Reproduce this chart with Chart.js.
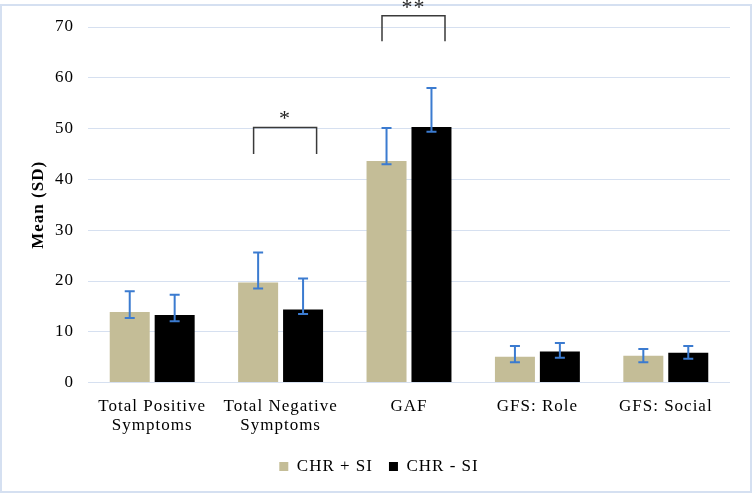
<!DOCTYPE html>
<html>
<head>
<meta charset="utf-8">
<script src="https://cdn.jsdelivr.net/npm/chart.js@4/dist/chart.umd.min.js"></script>
<style>
  html, body { margin: 0; padding: 0; background: #fff; }
  #wrap { width: 752px; height: 493px; position: relative; }
</style>
</head>
<body>
<div id="wrap"><canvas id="meanChart" width="752" height="493"></canvas></div>
<script>
// measures shown on the x axis
const categories = [
  ['Total Positive', 'Symptoms'],
  ['Total Negative', 'Symptoms'],
  'GAF',
  'GFS: Role',
  'GFS: Social'
];

// group means
const withSI = [13.9, 19.7, 43.6, 5.1, 5.3];
const withoutSI = [13.3, 14.4, 50.3, 6.1, 5.9];

// error bar ends as drawn (low / high)
const withSILow = [12.7, 18.5, 43.0, 4.0, 4.0];
const withSIHigh = [18.0, 25.6, 50.1, 7.2, 6.6];
const withoutSILow = [12.1, 13.5, 49.4, 4.9, 4.7];
const withoutSIHigh = [17.3, 20.5, 58.0, 7.8, 7.2];

// significance markers: category index, bracket top/bottom value, label
const sigIndex = [1, 2];
const sigTop = [50.2, 72.2];
const sigBottom = [45.0, 67.2];
const sigLabel = ['*', '**'];

const yTicks = [0, 10, 20, 30, 40, 50, 60, 70];

const serif = "'Liberation Serif', 'Times New Roman', serif";

// the original text is spaced out a bit
const spacingPlugin = {
  id: 'spacing',
  beforeUpdate(chart) { chart.ctx.letterSpacing = '1px'; },
  beforeDraw(chart) { chart.ctx.letterSpacing = '1px'; }
};

// white background + light blue frame
const framePlugin = {
  id: 'frame',
  beforeDraw(chart) {
    const c = chart.ctx;
    c.save();
    c.fillStyle = '#ffffff';
    c.fillRect(0, 0, chart.width, chart.height);
    c.strokeStyle = '#d5e0f1';
    c.lineWidth = 2;
    c.strokeRect(1, 5, chart.width - 2, chart.height - 6);
    c.restore();
  }
};

// error bars from the low/high arrays
const errorBarPlugin = {
  id: 'errorBars',
  afterDatasetsDraw(chart) {
    const c = chart.ctx;
    const y = chart.scales.y;
    const lows = [withSILow, withoutSILow];
    const highs = [withSIHigh, withoutSIHigh];
    c.save();
    c.strokeStyle = '#3b7bd0';
    c.lineWidth = 2;
    chart.data.datasets.forEach((ds, i) => {
      const meta = chart.getDatasetMeta(i);
      meta.data.forEach((bar, j) => {
        const top = y.getPixelForValue(highs[i][j]);
        const bot = y.getPixelForValue(lows[i][j]);
        c.beginPath();
        c.moveTo(bar.x, top);
        c.lineTo(bar.x, bot);
        c.moveTo(bar.x - 5, top);
        c.lineTo(bar.x + 5, top);
        c.moveTo(bar.x - 5, bot);
        c.lineTo(bar.x + 5, bot);
        c.stroke();
      });
    });
    c.restore();
  }
};

// significance brackets
const bracketPlugin = {
  id: 'brackets',
  afterDraw(chart) {
    const c = chart.ctx;
    const x = chart.scales.x;
    const y = chart.scales.y;
    c.save();
    c.strokeStyle = '#3a3a3a';
    c.lineWidth = 1.5;
    c.fillStyle = '#222';
    c.font = '22px ' + serif;
    c.textAlign = 'center';
    sigIndex.forEach((idx, k) => {
      const cx = x.getPixelForValue(idx);
      const left = cx - 27;
      const right = cx + 36;
      const top = y.getPixelForValue(sigTop[k]);
      const bot = y.getPixelForValue(sigBottom[k]);
      c.beginPath();
      c.moveTo(left, bot);
      c.lineTo(left, top);
      c.lineTo(right, top);
      c.lineTo(right, bot);
      c.stroke();
      c.textBaseline = 'bottom';
      c.fillText(sigLabel[k], (left + right) / 2, top + 3);
    });
    c.restore();
  }
};

new Chart(document.getElementById('meanChart'), {
  type: 'bar',
  data: {
    labels: categories,
    datasets: [
      {
        label: 'CHR + SI',
        data: withSI,
        backgroundColor: '#c4bd97',
        categoryPercentage: 0.7,
        barPercentage: 0.89
      },
      {
        label: 'CHR - SI',
        data: withoutSI,
        backgroundColor: '#000000',
        categoryPercentage: 0.7,
        barPercentage: 0.89
      }
    ]
  },
  options: {
    responsive: false,
    animation: false,
    layout: {
      padding: { left: 28, right: 22, top: 27, bottom: 8 }
    },
    plugins: {
      legend: {
        position: 'bottom',
        labels: {
          boxWidth: 9,
          boxHeight: 9,
          padding: 16,
          color: '#000',
          font: { family: serif, size: 17 }
        }
      },
      tooltip: { enabled: false }
    },
    scales: {
      x: {
        grid: { display: false },
        border: { display: false },
        ticks: {
          color: '#000',
          padding: 7,
          maxRotation: 0,
          autoSkip: false,
          font: { family: serif, size: 17, lineHeight: 1.1 }
        }
      },
      y: {
        min: 0,
        max: 70,
        afterBuildTicks(scale) {
          scale.ticks = yTicks.map(v => ({ value: v }));
        },
        afterFit(scale) {
          scale.width = 60;
        },
        grid: { color: '#d6e0f0', lineWidth: 1, drawTicks: false },
        border: { display: false },
        ticks: {
          color: '#000',
          padding: 14,
          font: { family: serif, size: 17 }
        },
        title: {
          display: true,
          text: 'Mean (SD)',
          color: '#000',
          padding: 0,
          font: { family: serif, size: 17, weight: 'bold' }
        }
      }
    }
  },
  plugins: [spacingPlugin, framePlugin, errorBarPlugin, bracketPlugin]
});
</script>
</body>
</html>
